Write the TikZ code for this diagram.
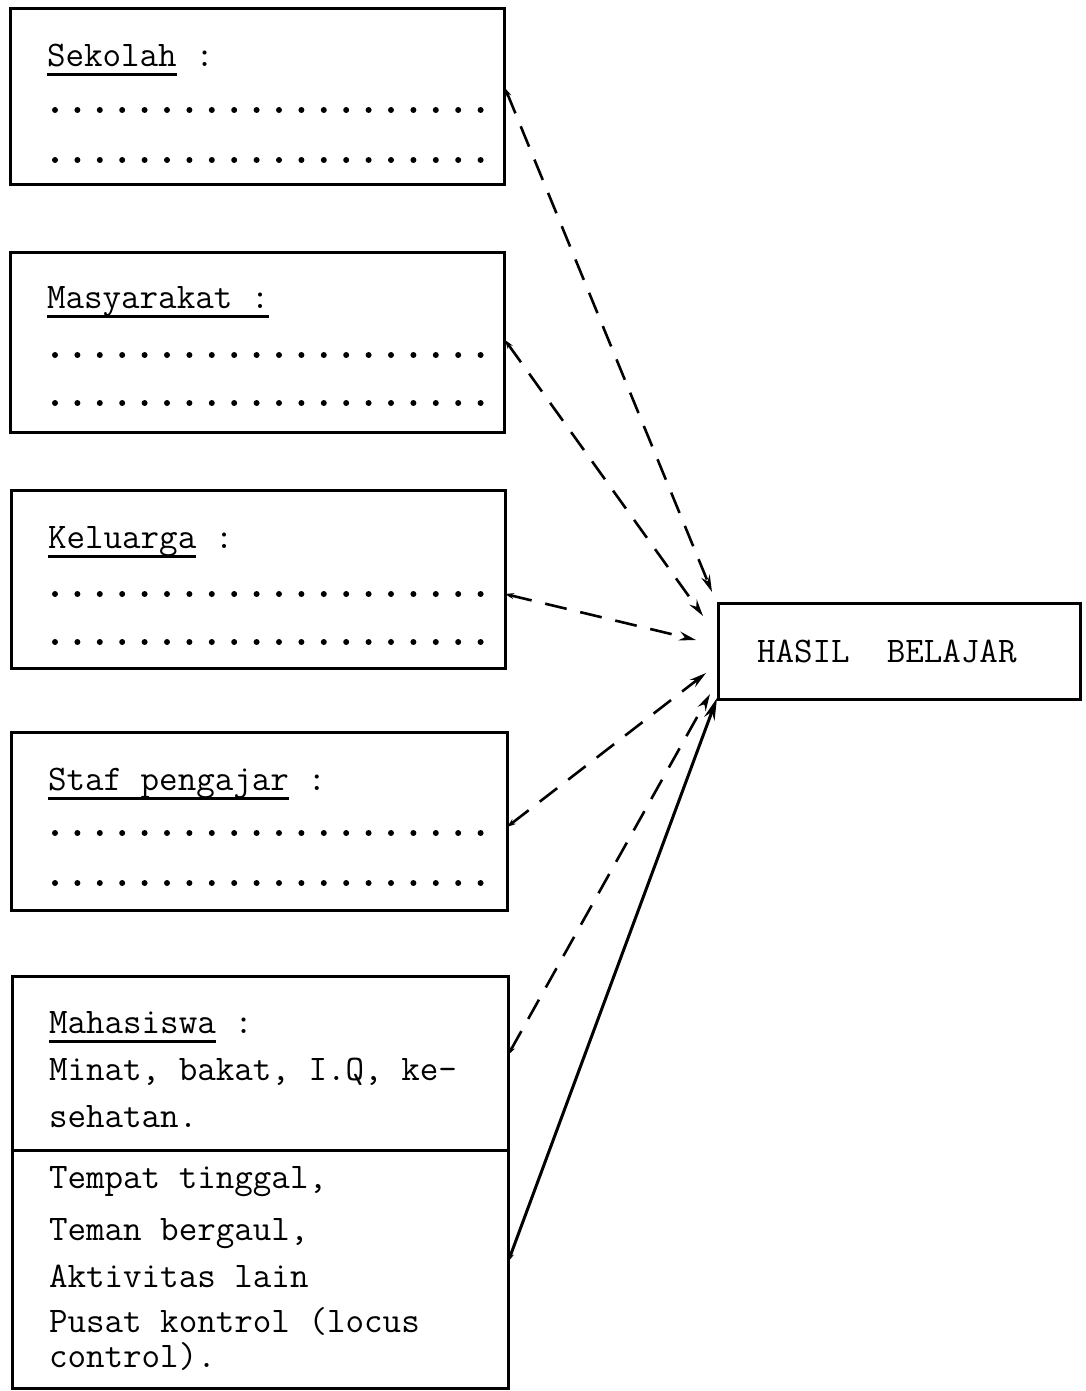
\documentclass[tikz,border=0pt]{standalone}
\usetikzlibrary{arrows.meta}
\newcommand\myul[1]{\setbox0\hbox{#1}\rlap{\vrule width\wd0 height -6.5pt depth 9.5pt}\box0\relax}
\begin{document}
\begin{tikzpicture}[x=1pt,y=-1pt,
  boxnode/.style={draw,line width=3pt,inner sep=0pt,outer sep=0pt},
  lbl/.style={anchor=base west,inner sep=0pt,outer sep=0pt,font=\fontsize{36}{40}\selectfont\ttfamily},
  link/.style={line width=2.6pt,dash pattern=on 22pt off 14pt,
    {Stealth[length=9pt,width=6pt]}-{Stealth[length=17pt,width=9pt]}},
  solidlink/.style={line width=3pt,
    {Stealth[length=9pt,width=6pt]}-{Stealth[length=22pt,width=11pt]}}]
\useasboundingbox (0,0) rectangle (1086,1391);

% left boxes
\node[boxnode,minimum width=494pt,minimum height=176pt] (sek) at (257,97) {};
\node[boxnode,minimum width=494pt,minimum height=180pt] (mas) at (257,342) {};
\node[boxnode,minimum width=494pt,minimum height=178pt] (kel) at (258,579) {};
\node[boxnode,minimum width=496pt,minimum height=178pt] (staf) at (259,821) {};
\node[boxnode,minimum width=496pt,minimum height=174pt] (mhs) at (260,1063) {};
\node[boxnode,minimum width=496pt,minimum height=238pt] (mhs2) at (260,1269) {};
% result box
\node[boxnode,minimum width=362pt,minimum height=96pt] (hasil) at (899,651) {};

% texts
\node[lbl] (t1) at (47,67) {\myul{Sekolah} :};
\node[lbl] (t2) at (47,308) {\myul{Masyarakat :}};
\node[lbl] (t3) at (48,548) {\myul{Keluarga} :};
\node[lbl] (t4) at (48,790) {\myul{Staf pengajar} :};
\node[lbl] (t5) at (49,1033) {\myul{Mahasiswa} :};
\node[lbl] (t6) at (49,1080) {Minat, bakat, I.Q, ke-};
\node[lbl] (t7) at (49,1127) {sehatan.};
\node[lbl] (t8) at (49,1188) {Tempat tinggal,};
\node[lbl] (t9) at (49,1240) {Teman bergaul,};
\node[lbl] (t10) at (49,1287) {Aktivitas lain};
\node[lbl] (t11) at (49,1332) {Pusat kontrol (locus};
\node[lbl] (t12) at (49,1367) {control).};
\node[lbl] (th) at (757,662) {HASIL\ \ BELAJAR};

% dotted leader rows
\foreach \yy in {110,160,355,403,594,642,833,883}
  \foreach \i in {0,...,19}
    \fill (55+\i*22.4,\yy) circle (3pt);

% connector end points
\coordinate (s1) at (505,88);
\coordinate (s2) at (505,340);
\coordinate (s3) at (505,594);
\coordinate (s4) at (507,827);
\coordinate (s5) at (508,1055);
\coordinate (s6) at (508,1262);
\coordinate (e1) at (712,592);
\coordinate (e2) at (703,616);
\coordinate (e3) at (696,640);
\coordinate (e4) at (706,673);
\coordinate (e5) at (710,694);
\coordinate (e6) at (717,698);

\draw[link] (s1) -- (e1);
\draw[link] (s2) -- (e2);
\draw[link] (s3) -- (e3);
\draw[link] (s4) -- (e4);
\draw[link] (s5) -- (e5);
\draw[solidlink] (s6) -- (e6);
\end{tikzpicture}
\end{document}
